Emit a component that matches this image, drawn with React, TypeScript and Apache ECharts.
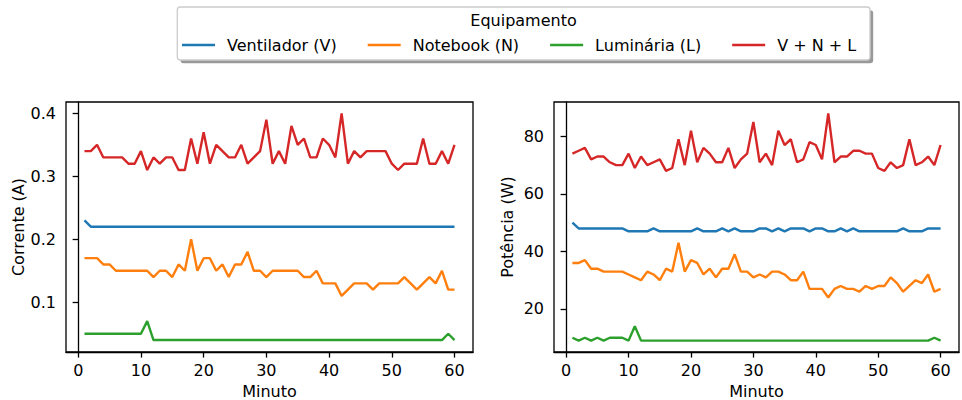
import React, { useEffect, useRef } from "react";
import * as echarts from "echarts";

const minutes = [1,2,3,4,5,6,7,8,9,10,11,12,13,14,15,16,17,18,19,20,21,22,23,24,25,26,27,28,29,30,31,32,33,34,35,36,37,38,39,40,41,42,43,44,45,46,47,48,49,50,51,52,53,54,55,56,57,58,59,60];

const seriesNames = ["Ventilador (V)", "Notebook (N)", "Luminária (L)", "V + N + L"];
const seriesColors = ["#1f77b4", "#ff7f0e", "#2ca02c", "#d62728"];

// Corrente (A)
const ventA = [0.23,0.22,0.22,0.22,0.22,0.22,0.22,0.22,0.22,0.22,0.22,0.22,0.22,0.22,0.22,0.22,0.22,0.22,0.22,0.22,0.22,0.22,0.22,0.22,0.22,0.22,0.22,0.22,0.22,0.22,0.22,0.22,0.22,0.22,0.22,0.22,0.22,0.22,0.22,0.22,0.22,0.22,0.22,0.22,0.22,0.22,0.22,0.22,0.22,0.22,0.22,0.22,0.22,0.22,0.22,0.22,0.22,0.22,0.22,0.22];
const noteA = [0.17,0.17,0.17,0.16,0.16,0.15,0.15,0.15,0.15,0.15,0.15,0.14,0.15,0.15,0.14,0.16,0.15,0.20,0.15,0.17,0.17,0.15,0.16,0.14,0.16,0.16,0.18,0.15,0.15,0.14,0.15,0.15,0.15,0.15,0.15,0.14,0.14,0.15,0.13,0.13,0.13,0.11,0.12,0.13,0.13,0.13,0.12,0.13,0.13,0.13,0.13,0.14,0.13,0.12,0.13,0.14,0.13,0.15,0.12,0.12];
const lumA = [0.05,0.05,0.05,0.05,0.05,0.05,0.05,0.05,0.05,0.05,0.07,0.04,0.04,0.04,0.04,0.04,0.04,0.04,0.04,0.04,0.04,0.04,0.04,0.04,0.04,0.04,0.04,0.04,0.04,0.04,0.04,0.04,0.04,0.04,0.04,0.04,0.04,0.04,0.04,0.04,0.04,0.04,0.04,0.04,0.04,0.04,0.04,0.04,0.04,0.04,0.04,0.04,0.04,0.04,0.04,0.04,0.04,0.04,0.05,0.04];
const totalA = [0.34,0.34,0.35,0.33,0.33,0.33,0.33,0.32,0.32,0.34,0.31,0.33,0.32,0.33,0.33,0.31,0.31,0.36,0.32,0.37,0.32,0.35,0.34,0.33,0.33,0.35,0.32,0.33,0.34,0.39,0.32,0.34,0.32,0.38,0.35,0.36,0.33,0.33,0.36,0.35,0.33,0.40,0.32,0.34,0.33,0.34,0.34,0.34,0.34,0.32,0.31,0.32,0.32,0.32,0.36,0.32,0.32,0.34,0.32,0.35];

// Potência (W)
const ventW = [50,48,48,48,48,48,48,48,48,47,47,47,47,48,47,47,47,47,47,47,48,47,47,47,48,47,48,47,47,47,48,48,47,48,47,48,48,48,47,48,48,47,47,48,47,48,47,47,47,47,47,47,47,48,47,47,47,48,48,48];
const noteW = [36,36,37,34,34,33,33,33,33,32,31,30,33,32,30,34,33,43,33,37,36,32,34,31,34,34,39,33,33,31,32,31,33,33,32,30,30,33,27,27,27,24,27,28,27,27,26,28,27,28,28,31,29,26,28,30,29,32,26,27];
const lumW = [10,9,10,9,10,9,10,10,10,9,14,9,9,9,9,9,9,9,9,9,9,9,9,9,9,9,9,9,9,9,9,9,9,9,9,9,9,9,9,9,9,9,9,9,9,9,9,9,9,9,9,9,9,9,9,9,9,9,10,9];
const totalW = [74,75,76,72,73,73,71,70,70,74,69,73,70,71,72,68,69,79,70,82,71,76,74,71,71,76,69,72,74,85,71,74,70,82,77,79,71,72,78,77,72,88,71,73,73,75,75,74,74,69,68,71,69,70,79,70,71,73,70,77];

const xTicks = [0, 10, 20, 30, 40, 50, 60];
const yTicksA = [0.1, 0.2, 0.3, 0.4];
const yTicksW = [20, 40, 60, 80];

const FONT = "DejaVu Sans";

export default function App() {
  const ref = useRef<HTMLDivElement>(null);
  useEffect(() => {
    document.body.style.margin = "0";
    if (!ref.current) return;
    const chart = echarts.init(ref.current, undefined, { renderer: "svg" });
    const pair = (ys: number[]) => minutes.map((m, i) => [m, ys[i]]);
    const dataA = [ventA, noteA, lumA, totalA];
    const dataW = [ventW, noteW, lumW, totalW];

    const xAxisBase = (gridIndex: number) => ({
      type: "value",
      gridIndex,
      min: -1.95,
      max: 62.95,
      name: "Minuto",
      nameLocation: "middle",
      nameGap: 31,
      nameTextStyle: { fontSize: 16, lineHeight: 16, color: "#000", fontFamily: FONT },
      axisLine: { show: true, lineStyle: { color: "#000", width: 1.3 } },
      axisTick: { show: true, customValues: xTicks, length: 5.6, lineStyle: { color: "#000", width: 1.3 } },
      axisLabel: { customValues: xTicks, margin: 10, fontSize: 16, color: "#000", fontFamily: FONT },
      splitLine: { show: false },
    });
    const yAxisBase = (gridIndex: number, name: string, min: number, max: number, ticks: number[]) => ({
      type: "value",
      gridIndex,
      min,
      max,
      name,
      nameLocation: "middle",
      nameGap: 39,
      nameTextStyle: { fontSize: 16, color: "#000", fontFamily: FONT },
      axisLine: { show: true, lineStyle: { color: "#000", width: 1.3 } },
      axisTick: { show: true, customValues: ticks, length: 5.6, lineStyle: { color: "#000", width: 1.3 } },
      axisLabel: { customValues: ticks, margin: 10, fontSize: 16, color: "#000", fontFamily: FONT },
      splitLine: { show: false },
    });

    const series: any[] = [];
    [dataA, dataW].forEach((set, gi) => {
      set.forEach((ys, si) => {
        series.push({
          type: "line",
          name: seriesNames[si],
          xAxisIndex: gi,
          yAxisIndex: gi,
          data: pair(ys),
          showSymbol: false,
          symbol: "none",
          color: seriesColors[si],
          lineStyle: { width: 2.4, color: seriesColors[si] },
        });
      });
    });

    const gridBase = { top: 102, height: 250, show: true, borderColor: "#000", borderWidth: 1.3, backgroundColor: "transparent", containLabel: false, outerBoundsMode: "none" };

    chart.setOption({
      animation: false,
      textStyle: { fontFamily: FONT },
      grid: [
        { ...gridBase, left: 66, width: 407 },
        { ...gridBase, left: 554, width: 405 },
      ],
      xAxis: [xAxisBase(0), xAxisBase(1)],
      yAxis: [
        yAxisBase(0, "Corrente (A)", 0.021, 0.418, yTicksA),
        yAxisBase(1, "Potência (W)", 5.05, 91.95, yTicksW),
      ],
      legend: {
        data: seriesNames,
        left: 182,
        top: 37,
        padding: 0,
        z: 10,
        icon: "rect",
        itemWidth: 33,
        itemHeight: 2.4,
        itemGap: 31,
        textStyle: { fontSize: 16, color: "#000", fontFamily: FONT, padding: [0, 0, 0, 7] },
      },
      graphic: [
        {
          type: "rect",
          z: 1,
          shape: { x: 180.5, y: 10.2, width: 692.7, height: 53, r: 3 },
          style: { fill: "rgba(0,0,0,0.4)" },
          silent: true,
        },
        {
          type: "rect",
          z: 2,
          shape: { x: 177.3, y: 7, width: 692.7, height: 53, r: 3 },
          style: { fill: "#fff", stroke: "#ccc", lineWidth: 1.3 },
          silent: true,
        },
        {
          type: "text",
          z: 3,
          x: 523.5,
          y: 20,
          style: { text: "Equipamento", fontSize: 16, fontFamily: FONT, fill: "#000", align: "center", verticalAlign: "middle" },
          silent: true,
        },
      ],
      series,
    });
    return () => chart.dispose();
  }, []);
  return <div ref={ref} style={{ width: 962, height: 400 }} />;
}
